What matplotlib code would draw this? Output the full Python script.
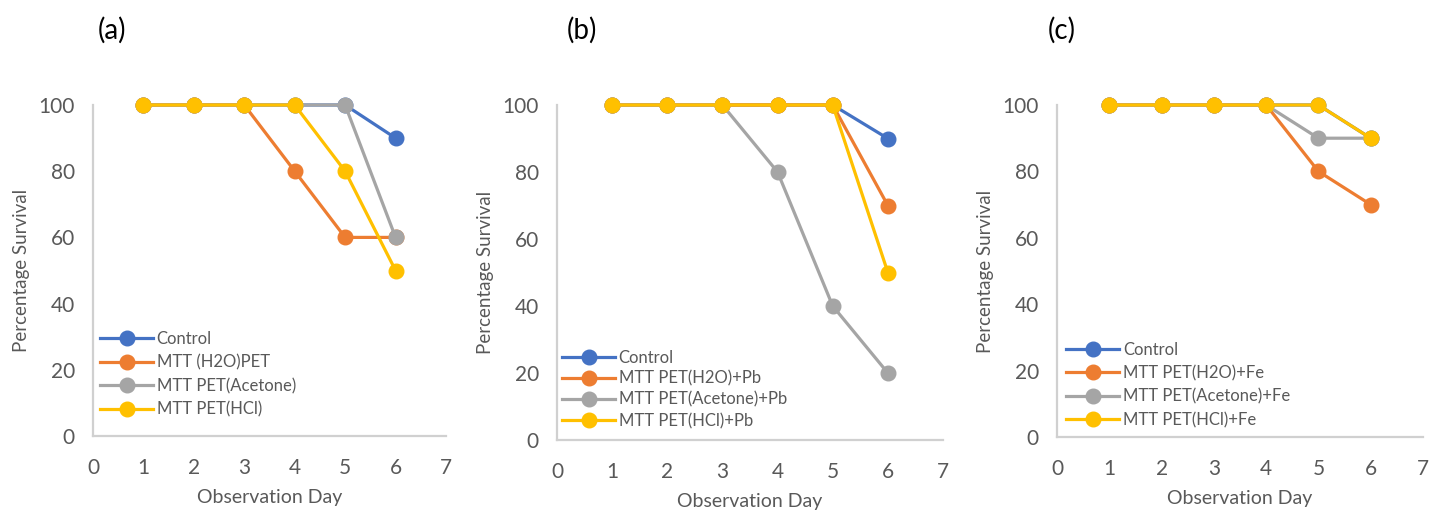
import matplotlib
matplotlib.use("Agg")
import matplotlib.pyplot as plt

days = [1, 2, 3, 4, 5, 6]

# Panel (a): PET extracts alone
a_labels = ["Control", "MTT (H2O)PET", "MTT PET(Acetone)", "MTT PET(HCl)"]
a_control = [100, 100, 100, 100, 100, 90]
a_h2o = [100, 100, 100, 80, 60, 60]
a_acetone = [100, 100, 100, 100, 100, 60]
a_hcl = [100, 100, 100, 100, 80, 50]

# Panel (b): PET extracts with Pb
b_labels = ["Control", "MTT PET(H2O)+Pb", "MTT PET(Acetone)+Pb", "MTT PET(HCl)+Pb"]
b_control = [100, 100, 100, 100, 100, 90]
b_h2o = [100, 100, 100, 100, 100, 70]
b_acetone = [100, 100, 100, 80, 40, 20]
b_hcl = [100, 100, 100, 100, 100, 50]

# Panel (c): PET extracts with Fe
c_labels = ["Control", "MTT PET(H2O)+Fe", "MTT PET(Acetone)+Fe", "MTT PET(HCl)+Fe"]
c_control = [100, 100, 100, 100, 100, 90]
c_h2o = [100, 100, 100, 100, 80, 70]
c_acetone = [100, 100, 100, 100, 90, 90]
c_hcl = [100, 100, 100, 100, 100, 90]

x_ticks = [0, 1, 2, 3, 4, 5, 6, 7]
y_ticks = [0, 20, 40, 60, 80, 100]
panel_titles = ["(a)", "(b)", "(c)"]

colors = ["#4472C4", "#ED7D31", "#A5A5A5", "#FFC000"]
text_col = "#595959"
axis_col = "#D0D0D0"

plt.rcParams["font.family"] = ["Lato", "DejaVu Sans"]

fig = plt.figure(figsize=(14.31, 5.12), dpi=100)

W, H = 1431, 512
# pixel boxes: (x0, x7, y0_px, y100_px)
boxes = [(93, 446, 436, 105), (557, 943, 440, 105), (1057, 1423, 437, 105)]
legend_anchor = [(0.02, 0.055), (0.013, 0.033), (0.025, 0.027)]
legend_spacing = [0.45, 0.3, 0.44]
title_x = [112, 582, 1062]

panels = [
    (a_labels, [a_control, a_h2o, a_acetone, a_hcl]),
    (b_labels, [b_control, b_h2o, b_acetone, b_hcl]),
    (c_labels, [c_control, c_h2o, c_acetone, c_hcl]),
]

for i, (labels, series) in enumerate(panels):
    x0, x7, y0, y100 = boxes[i]
    ax = fig.add_axes([x0 / W, 1 - y0 / H, (x7 - x0) / W, (y0 - y100) / H])
    for vals, lab, col in zip(series, labels, colors):
        ax.plot(days, vals, color=col, lw=2.3, marker="o", ms=10.5,
                label=lab, clip_on=False, zorder=3)
    ax.set_xlim(0, 7)
    ax.set_ylim(0, 100)
    ax.set_xticks(x_ticks)
    ax.set_yticks(y_ticks)
    for s in ["top", "right"]:
        ax.spines[s].set_visible(False)
    for s in ["left", "bottom"]:
        ax.spines[s].set_color(axis_col)
        ax.spines[s].set_linewidth(1.6)
    ax.tick_params(length=0, labelsize=15, labelcolor=text_col)
    ax.tick_params(axis="x", pad=16)
    ax.tick_params(axis="y", pad=13)
    ax.set_xlabel("Observation Day", fontsize=14, color=text_col, labelpad=8)
    ax.set_ylabel("Percentage Survival", fontsize=13.5, color=text_col, labelpad=6)
    leg = ax.legend(loc="lower left", bbox_to_anchor=legend_anchor[i],
                    frameon=False, fontsize=12, handlelength=3.2,
                    handletextpad=0.2, labelspacing=legend_spacing[i],
                    borderaxespad=0.0, borderpad=0.0)
    for t in leg.get_texts():
        t.set_color(text_col)
    fig.text(title_x[i] / W, 1 - 30 / H, panel_titles[i], fontsize=20,
             color="#000000", ha="center", va="center")

fig.savefig("out.png", dpi=100)
